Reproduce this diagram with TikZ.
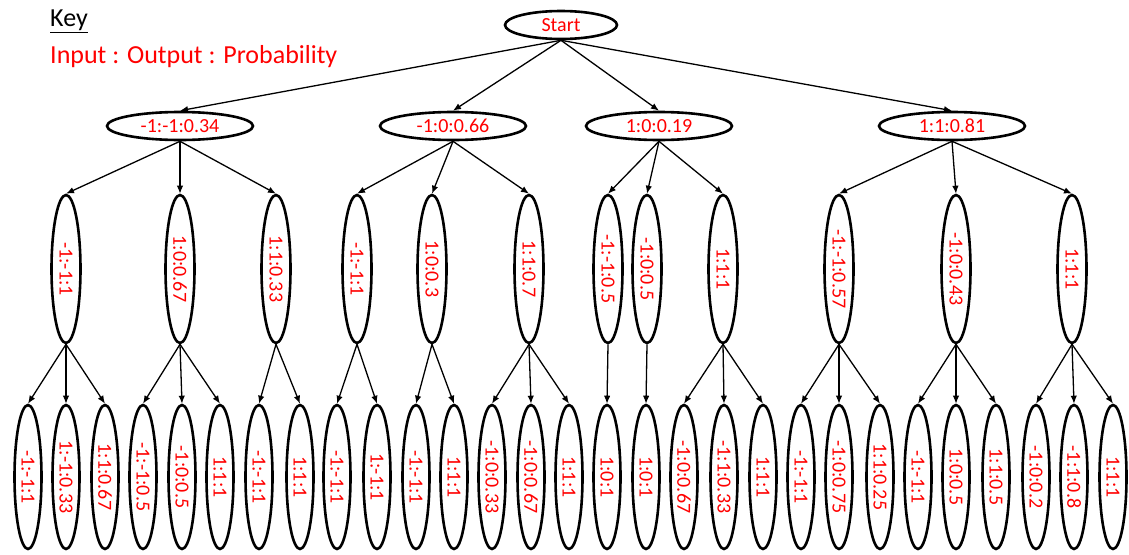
\documentclass[tikz,border=0pt]{standalone}
\usepackage{fontspec}
\setmainfont{Carlito}
\usetikzlibrary{shapes.geometric,arrows.meta}

% vertical label, read top to bottom
\newcommand{\vlab}[1]{\rotatebox{-90}{#1}}

\tikzset{
  oval/.style={ellipse, draw=black, line width=2.6pt, inner sep=0pt,
    text=red, font=\fontsize{20}{24}\selectfont},
  rootnode/.style={oval, minimum width=112pt, minimum height=28pt},
  firstlvl/.style={oval, minimum width=146pt, minimum height=28pt},
  secondlvl/.style={oval, minimum width=29pt, minimum height=148pt},
  thirdlvl/.style={oval, minimum width=27pt, minimum height=144pt},
  branch/.style={draw=black, line width=1.3pt, -{Latex[length=8pt,width=6.5pt]}},
  keytext/.style={anchor=base west, inner sep=0pt, font=\fontsize{26}{30}\selectfont}
}

\begin{document}
\begin{tikzpicture}[x=1pt,y=-1pt]
\useasboundingbox (0,0) rectangle (1129,554);

% key
\node[keytext] (keytitle) at (50,27) {\underline{Key}};
\node[keytext, text=red] (keyline) at (50,63) {Input : Output : Probability};

% root
\node[rootnode] (start) at (561,25) {Start};

% first level
\node[firstlvl] (A) at (180,126) {-1:-1:0.34};
\node[firstlvl] (B) at (453,126) {-1:0:0.66};
\node[firstlvl] (C) at (659,126) {1:0:0.19};
\node[firstlvl] (D) at (952,126) {1:1:0.81};

% second level
\node[secondlvl] (A1) at (66,269)  {\vlab{-1:-1:1}};
\node[secondlvl] (A2) at (180,269) {\vlab{1:0:0.67}};
\node[secondlvl] (A3) at (276,269) {\vlab{1:1:0.33}};
\node[secondlvl] (B1) at (357,269) {\vlab{-1:-1:1}};
\node[secondlvl] (B2) at (432,269) {\vlab{1:0:0.3}};
\node[secondlvl] (B3) at (529,269) {\vlab{1:1:0.7}};
\node[secondlvl] (C1) at (608,269) {\vlab{-1:-1:0.5}};
\node[secondlvl] (C2) at (647,269) {\vlab{-1:0:0.5}};
\node[secondlvl] (C3) at (723,269) {\vlab{1:1:1}};
\node[secondlvl] (D1) at (839,269) {\vlab{-1:-1:0.57}};
\node[secondlvl] (D2) at (956,269) {\vlab{-1:0:0.43}};
\node[secondlvl] (D3) at (1072,269) {\vlab{1:1:1}};

% third level
\node[thirdlvl] (A1a) at (28,477)  {\vlab{-1:-1:1}};
\node[thirdlvl] (A1b) at (66,477)  {\vlab{1:-1:0.33}};
\node[thirdlvl] (A1c) at (105,477) {\vlab{1:1:0.67}};
\node[thirdlvl] (A2a) at (143,477) {\vlab{-1:-1:0.5}};
\node[thirdlvl] (A2b) at (182,477) {\vlab{-1:0:0.5}};
\node[thirdlvl] (A2c) at (220,477) {\vlab{1:1:1}};
\node[thirdlvl] (A3a) at (259,477) {\vlab{-1:-1:1}};
\node[thirdlvl] (A3b) at (300,477) {\vlab{1:1:1}};
\node[thirdlvl] (B1a) at (337,477) {\vlab{-1:-1:1}};
\node[thirdlvl] (B1b) at (377,477) {\vlab{1:-1:1}};
\node[thirdlvl] (B2a) at (416,477) {\vlab{-1:-1:1}};
\node[thirdlvl] (B2b) at (454,477) {\vlab{1:1:1}};
\node[thirdlvl] (B3a) at (492,477) {\vlab{-1:0:0.33}};
\node[thirdlvl] (B3b) at (531,477) {\vlab{-1:0:0.67}};
\node[thirdlvl] (B3c) at (569,477) {\vlab{1:1:1}};
\node[thirdlvl] (C1a) at (607,477) {\vlab{1:0:1}};
\node[thirdlvl] (C2a) at (646,477) {\vlab{1:0:1}};
\node[thirdlvl] (C3a) at (684,477) {\vlab{-1:0:0.67}};
\node[thirdlvl] (C3b) at (724,477) {\vlab{-1:1:0.33}};
\node[thirdlvl] (C3c) at (763,477) {\vlab{1:1:1}};
\node[thirdlvl] (D1a) at (801,477) {\vlab{-1:-1:1}};
\node[thirdlvl] (D1b) at (839,477) {\vlab{-1:0:0.75}};
\node[thirdlvl] (D1c) at (880,477) {\vlab{1:1:0.25}};
\node[thirdlvl] (D2a) at (918,477) {\vlab{-1:-1:1}};
\node[thirdlvl] (D2b) at (956,477) {\vlab{1:0:0.5}};
\node[thirdlvl] (D2c) at (996,477) {\vlab{1:1:0.5}};
\node[thirdlvl] (D3a) at (1036,477) {\vlab{-1:0:0.2}};
\node[thirdlvl] (D3b) at (1074,477) {\vlab{-1:1:0.8}};
\node[thirdlvl] (D3c) at (1113,477) {\vlab{1:1:1}};

% branches
\foreach \c in {A,B,C,D}
  \draw[branch] (start.south) -- (\c.north);
\foreach \p/\c in {A/A1,A/A2,A/A3,B/B1,B/B2,B/B3,C/C1,C/C2,C/C3,D/D1,D/D2,D/D3}
  \draw[branch] (\p.south) -- (\c.north);
\foreach \p/\c in {A1/A1a,A1/A1b,A1/A1c,A2/A2a,A2/A2b,A2/A2c,A3/A3a,A3/A3b,
                   B1/B1a,B1/B1b,B2/B2a,B2/B2b,B3/B3a,B3/B3b,B3/B3c,
                   C1/C1a,C2/C2a,C3/C3a,C3/C3b,C3/C3c,
                   D1/D1a,D1/D1b,D1/D1c,D2/D2a,D2/D2b,D2/D2c,D3/D3a,D3/D3b,D3/D3c}
  \draw[branch] (\p.south) -- (\c.north);
\end{tikzpicture}
\end{document}
